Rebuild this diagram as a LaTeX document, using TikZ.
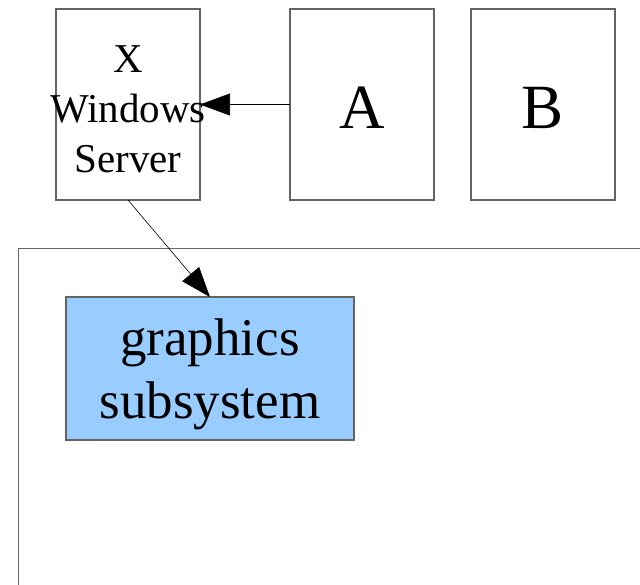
\documentclass[tikz,border=0pt]{standalone}
\usepackage{fontspec}
\setmainfont{Liberation Serif}
\usetikzlibrary{positioning,arrows.meta}
\definecolor{boxgray}{RGB}{100,100,100}
\definecolor{gfxblue}{RGB}{153,204,255}

\begin{document}
\begin{tikzpicture}[
    x=1pt, y=-1pt,
    node distance=90pt,
    proc/.style={rectangle, draw=boxgray, line width=1.3pt, minimum width=144pt, minimum height=191pt, inner sep=0pt, outer sep=0pt},
    sub/.style={rectangle, draw=boxgray, fill=gfxblue, line width=1.3pt, minimum width=288pt, minimum height=143pt, inner sep=0pt, outer sep=0pt},
    txt/.style={align=center, yshift=-4pt},
    arrow/.style={-{Triangle[length=30pt,width=22pt]}, line width=0.6pt}
]
    \useasboundingbox (0,0) rectangle (640,584);

    % Processes
    \node[proc, label={[txt, yshift=-1pt, font=\fontsize{41}{50}\selectfont]center:X\\Windows\\Server}] (xserver) at (128,104.5) {};
    \node[proc, right=of xserver, label={[txt, yshift=1pt, font=\fontsize{63}{70}\selectfont]center:A}] (a) {};
    \node[proc, right=37pt of a, label={[txt, yshift=1pt, font=\fontsize{63}{70}\selectfont]center:B}] (b) {};

    % Kernel
    \node[rectangle, draw=boxgray, line width=1.3pt, minimum width=660pt, minimum height=360pt, anchor=north west] (kernel) at (18,248) {};
    \node[sub, label={[txt, yshift=-2pt, font=\fontsize{53}{63}\selectfont]center:graphics\\subsystem}] (gfx) at (210,368.5) {};

    % Arrows
    \draw[arrow] (a) -- (xserver);
    \draw[arrow] (xserver.south) -- (gfx.north);

\end{tikzpicture}
\end{document}
